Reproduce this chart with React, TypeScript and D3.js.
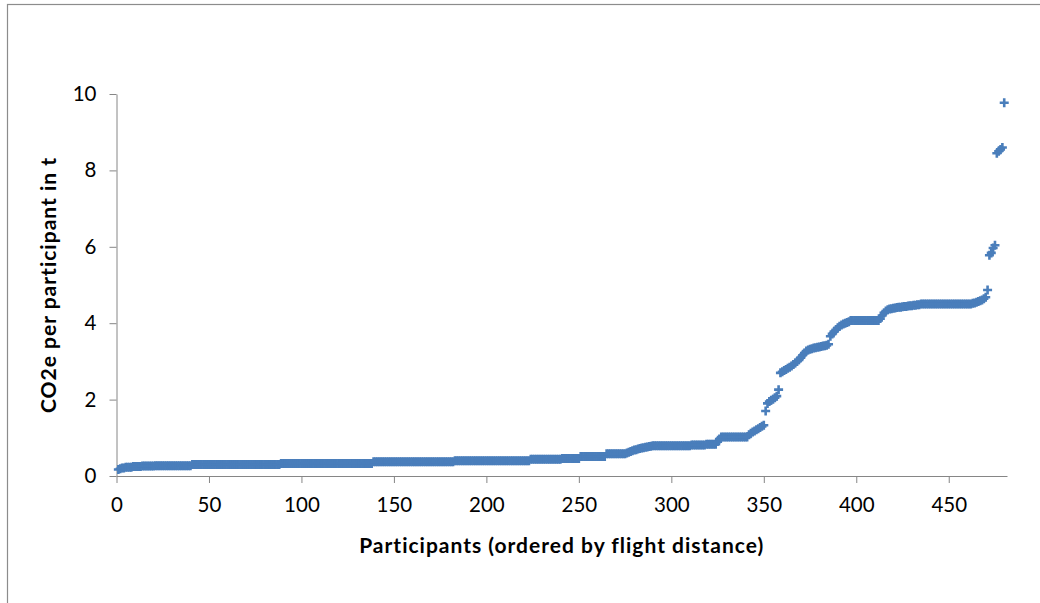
import React, { useEffect, useRef } from 'react';
import * as d3 from 'd3';

// CO2e per participant (t), participants sorted by flight distance.
// As [value, how many participants in a row share it].
const co2Runs: [number, number][] = [
  [0.17, 1], [0.19, 1], [0.21, 2], [0.23, 4], [0.25, 5], [0.26, 7],
  [0.27, 20], [0.30, 48], [0.33, 50], [0.37, 44], [0.40, 41], [0.44, 17],
  [0.46, 10], [0.51, 14], [0.58, 11],
  [0.60, 1], [0.62, 1], [0.64, 1], [0.66, 1], [0.68, 1], [0.69, 1], [0.71, 1],
  [0.72, 1], [0.73, 1], [0.74, 1], [0.75, 1], [0.76, 1], [0.77, 1], [0.78, 1],
  [0.79, 21], [0.81, 8], [0.83, 6], [0.90, 1], [0.97, 1], [1.02, 15],
  [1.08, 1], [1.12, 1], [1.15, 1], [1.18, 1], [1.21, 1], [1.24, 1], [1.27, 1],
  [1.30, 1], [1.33, 1],
  [1.70, 1],
  [1.90, 1], [1.95, 1], [1.98, 1], [2.01, 1], [2.05, 1], [2.09, 1],
  [2.26, 1],
  [2.70, 1], [2.73, 1], [2.76, 1], [2.79, 1], [2.82, 1], [2.85, 1], [2.88, 1],
  [2.92, 1], [2.96, 1], [3.00, 1], [3.04, 1],
  [3.10, 1], [3.16, 1], [3.22, 1], [3.27, 1], [3.30, 1], [3.32, 1], [3.33, 1],
  [3.35, 1], [3.36, 1], [3.37, 1], [3.38, 1], [3.39, 1], [3.40, 1], [3.41, 1],
  [3.42, 1], [3.45, 1],
  [3.66, 1], [3.72, 1], [3.78, 1], [3.83, 1], [3.88, 1], [3.92, 1], [3.95, 1],
  [3.98, 1], [4.00, 1], [4.02, 1], [4.04, 1],
  [4.07, 16],
  [4.12, 1], [4.20, 1], [4.27, 1], [4.32, 1], [4.35, 1], [4.37, 1], [4.38, 1],
  [4.39, 1], [4.40, 1], [4.41, 1], [4.42, 2], [4.43, 1], [4.44, 2], [4.45, 1],
  [4.46, 2], [4.47, 2], [4.48, 2],
  [4.50, 28],
  [4.52, 1], [4.53, 1], [4.55, 1], [4.57, 1], [4.59, 1], [4.61, 1], [4.64, 1],
  [4.68, 1],
  [4.87, 1],
  [5.78, 1], [5.84, 1], [5.97, 1], [6.04, 1],
  [8.45, 1], [8.50, 1], [8.55, 1], [8.60, 1],
  [9.77, 1],
];

const xTicks = [0, 50, 100, 150, 200, 250, 300, 350, 400, 450];
const yTicks = [0, 2, 4, 6, 8, 10];

const xTitle = 'Participants (ordered by flight distance)';
const yTitle = 'CO2e per participant in t';

const width = 1040;
const height = 603;
const font = 'Lato, "Open Sans", sans-serif';
const axisColor = '#868686';
const markColor = '#4a7ebb';

const App = () => {
  const ref = useRef<SVGSVGElement>(null);

  useEffect(() => {
    const svg = d3.select(ref.current);
    svg.selectAll('*').remove();

    // participant index starts at 1
    const points: { p: number; v: number }[] = [];
    co2Runs.forEach(([v, n]) => {
      for (let k = 0; k < n; k++) points.push({ p: points.length + 1, v });
    });

    const x = d3.scaleLinear().domain([0, 481.5]).range([116.5, 1007]);
    const y = d3.scaleLinear().domain([0, 10]).range([476, 94]);

    // chart frame (only top/left edges fall inside the picture)
    svg.append('rect')
      .attr('x', 7.5)
      .attr('y', 4.5)
      .attr('width', 1200)
      .attr('height', 800)
      .attr('fill', '#fff')
      .attr('stroke', '#8c8c8c')
      .attr('stroke-width', 1.2);

    // Y axis
    svg.append('g')
      .attr('transform', `translate(${x(0)},0)`)
      .call(d3.axisLeft(y).tickValues(yTicks).tickSizeInner(7).tickSizeOuter(0).tickPadding(13))
      .call(g => g.selectAll('path, line').attr('stroke', axisColor))
      .call(g => g.selectAll('text').attr('fill', '#000'))
      .attr('font-family', font)
      .attr('font-size', 20.5);

    // X axis
    svg.append('g')
      .attr('transform', `translate(0,${y(0)})`)
      .call(d3.axisBottom(x).tickValues(xTicks).tickSizeInner(7).tickSizeOuter(0).tickPadding(14))
      .call(g => g.selectAll('path, line').attr('stroke', axisColor))
      .call(g => g.selectAll('text').attr('fill', '#000'))
      .attr('font-family', font)
      .attr('font-size', 20.5);

    // Markers
    svg.append('g')
      .selectAll('path')
      .data(points).enter()
      .append('path')
      .attr('transform', d => `translate(${x(d.p)},${y(d.v)})`)
      .attr('d', 'M-4.5,0H4.5M0,-4.5V4.5')
      .attr('stroke', markColor)
      .attr('stroke-width', 2.6)
      .attr('fill', 'none');

    // Axis titles
    svg.append('text')
      .attr('x', (x.range()[0] + x.range()[1]) / 2)
      .attr('y', 553)
      .attr('text-anchor', 'middle')
      .attr('font-family', font)
      .attr('font-weight', 700)
      .attr('font-size', 21)
      .attr('letter-spacing', 1)
      .text(xTitle);

    svg.append('text')
      .attr('transform', `translate(56,${(y.range()[0] + y.range()[1]) / 2}) rotate(-90)`)
      .attr('text-anchor', 'middle')
      .attr('font-family', font)
      .attr('font-weight', 700)
      .attr('font-size', 21)
      .attr('letter-spacing', 1)
      .text(yTitle);
  }, []);

  return (
    <div style={{ position: 'fixed', left: 0, top: 0 }}>
      <svg ref={ref} width={width} height={height} style={{ display: 'block', background: '#fff' }} />
    </div>
  );
};

export default App;
